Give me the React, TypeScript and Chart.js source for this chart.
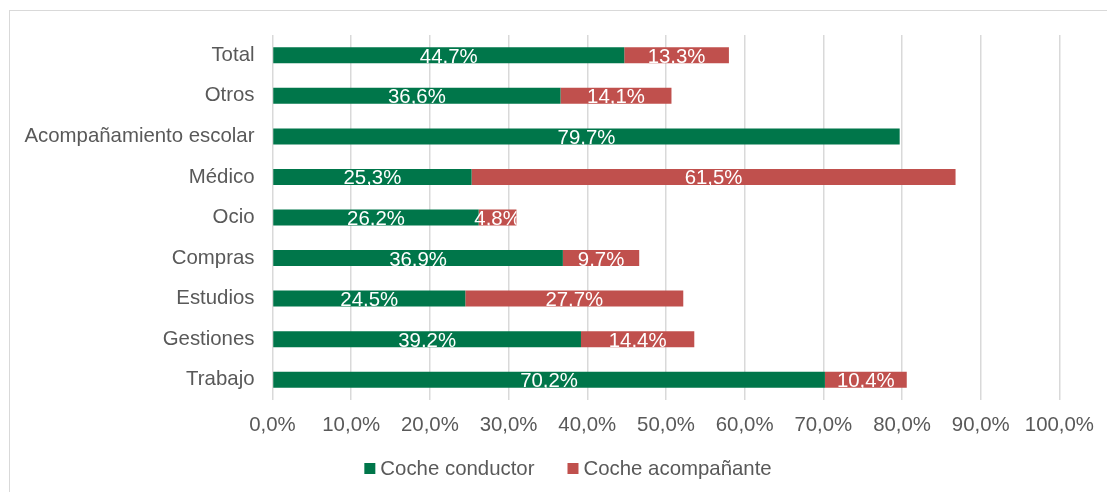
import React, { useEffect, useRef } from "react";
import { Chart, registerables } from "chart.js";

Chart.register(...registerables);

const categories = [
  "Total",
  "Otros",
  "Acompañamiento escolar",
  "Médico",
  "Ocio",
  "Compras",
  "Estudios",
  "Gestiones",
  "Trabajo",
];
const conductor = [44.7, 36.6, 79.7, 25.3, 26.2, 36.9, 24.5, 39.2, 70.2];
const acompanante = [13.3, 14.1, 0, 61.5, 4.8, 9.7, 27.7, 14.4, 10.4];
const seriesNames = ["Coche conductor", "Coche acompañante"];
const seriesColors = ["#00764A", "#C0504D"];

const FONT = "'Liberation Sans', Arial, sans-serif";
const FS = 20.4;
const GRAY = "#595959";

const fmt = (v: number) => v.toFixed(1).replace(".", ",") + "%";

const labelPlugin = {
  id: "segLabels",
  afterDatasetsDraw(chart: any) {
    const ctx = chart.ctx;
    const area = chart.chartArea;
    chart.data.datasets.forEach((ds: any, di: number) => {
      const meta = chart.getDatasetMeta(di);
      meta.data.forEach((bar: any, i: number) => {
        const v = ds.data[i];
        if (!v) return;
        const left = Math.min(bar.x, bar.base);
        const right = Math.max(bar.x, bar.base);
        const top = bar.y - bar.height / 2;
        const bottom = bar.y + bar.height / 2;
        ctx.save();
        ctx.beginPath();
        ctx.rect(area.left, top, right - area.left, bottom - top);
        ctx.clip();
        ctx.fillStyle = "#ffffff";
        ctx.font = `${FS}px ${FONT}`;
        ctx.textAlign = "center";
        ctx.textBaseline = "alphabetic";
        ctx.fillText(fmt(v), (left + right) / 2, bottom - 0.5);
        ctx.restore();
      });
    });
  },
};

const framePlugin = {
  id: "frameLegend",
  beforeDraw(chart: any) {
    const ctx = chart.ctx;
    ctx.save();
    ctx.fillStyle = "#ffffff";
    ctx.fillRect(0, 0, chart.width, chart.height);
    ctx.strokeStyle = "#D9D9D9";
    ctx.lineWidth = 1;
    ctx.strokeRect(9.5, 10.5, 3000, 3000);
    ctx.restore();
  },
  afterDraw(chart: any) {
    const ctx = chart.ctx;
    ctx.save();
    ctx.font = `${FS}px ${FONT}`;
    const box = 11;
    const gapText = 5;
    const gapItem = 33;
    const widths = seriesNames.map((n) => box + gapText + ctx.measureText(n).width);
    const total = widths.reduce((a, b) => a + b, 0) + gapItem * (seriesNames.length - 1);
    let x = 568 - total / 2;
    const baseline = 475;
    seriesNames.forEach((n, i) => {
      ctx.fillStyle = seriesColors[i];
      ctx.fillRect(x, 463, box, box);
      ctx.fillStyle = GRAY;
      ctx.textAlign = "left";
      ctx.textBaseline = "alphabetic";
      ctx.fillText(n, x + box + gapText, baseline);
      x += widths[i] + gapItem;
    });
    ctx.restore();
  },
};

export default function App() {
  const ref = useRef<HTMLCanvasElement>(null);
  useEffect(() => {
    if (!ref.current) return;
    const chart = new Chart(ref.current, {
      type: "bar",
      data: {
        labels: categories,
        datasets: [
          {
            label: seriesNames[0],
            data: conductor,
            backgroundColor: seriesColors[0],
            barPercentage: 0.395,
            categoryPercentage: 1,
          },
          {
            label: seriesNames[1],
            data: acompanante,
            backgroundColor: seriesColors[1],
            barPercentage: 0.395,
            categoryPercentage: 1,
          },
        ],
      },
      options: {
        indexAxis: "y",
        animation: false,
        responsive: false,
        maintainAspectRatio: false,
        layout: { padding: { left: 0, right: 46.5, top: 35, bottom: 52 } },
        plugins: {
          legend: { display: false },
          tooltip: { enabled: false },
        },
        scales: {
          x: {
            stacked: true,
            min: 0,
            max: 100,
            ticks: {
              stepSize: 10,
              color: GRAY,
              font: { size: FS, family: FONT },
              padding: 13,
              maxRotation: 0,
              autoSkip: false,
              callback: (v: any) => fmt(Number(v)),
            },
            grid: { color: "#D9D9D9", lineWidth: 1.5, drawTicks: false },
            border: { display: false },
            afterFit: (s: any) => {
              s.height = 40;
            },
          },
          y: {
            stacked: true,
            ticks: {
              color: GRAY,
              font: { size: FS, family: FONT },
              padding: 18,
              autoSkip: false,
            },
            grid: { display: false, drawTicks: false },
            border: { display: false },
            afterFit: (s: any) => {
              s.width = 272.5;
            },
          },
        },
      },
      plugins: [framePlugin, labelPlugin],
    });
    return () => chart.destroy();
  }, []);
  return (
    <div style={{ position: "fixed", left: 0, top: 0, width: 1107, height: 492, background: "#fff" }}>
      <canvas ref={ref} width={1107} height={492} style={{ display: "block" }} />
    </div>
  );
}
